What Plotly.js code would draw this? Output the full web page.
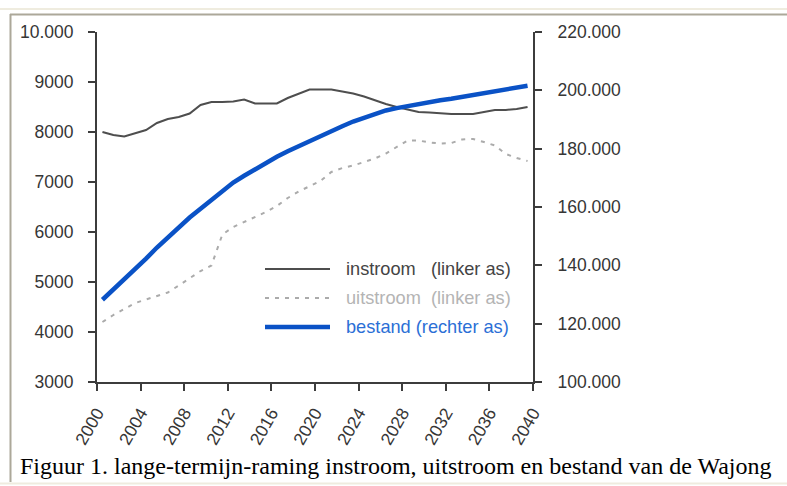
<!DOCTYPE html>
<html>
<head>
<meta charset="utf-8">
<script src="https://cdn.plot.ly/plotly-3.0.1.min.js"></script>
<style>
html,body{margin:0;padding:0;background:#fff;}
#chart{width:787px;height:486px;}
</style>
</head>
<body>
<div id="chart"></div>
<script>
// ---- data ----
var years = [2000,2001,2002,2003,2004,2005,2006,2007,2008,2009,
             2010,2011,2012,2013,2014,2015,2016,2017,2018,2019,
             2020,2021,2022,2023,2024,2025,2026,2027,2028,2029,
             2030,2031,2032,2033,2034,2035,2036,2037,2038,2039];
var instroom = [8000,7940,7910,7970,8040,8180,8260,8300,8370,8540,
                8600,8600,8610,8650,8570,8570,8570,8680,8760,8850,
                8850,8850,8810,8770,8710,8630,8560,8500,8450,8400,
                8390,8370,8360,8360,8360,8400,8440,8440,8460,8500];
var uitstroom = [4200,4340,4460,4580,4650,4720,4790,4930,5080,5220,
                 5330,5950,6100,6200,6300,6400,6520,6680,6810,6910,
                 7020,7200,7280,7330,7400,7470,7570,7700,7830,7830,
                 7790,7770,7780,7850,7860,7800,7730,7560,7480,7420];
var bestand = [128200,131600,135000,138500,142300,146100,149600,153100,156400,159400,
               162500,165500,168400,170700,173000,175200,177200,179100,180900,182500,
               184200,186100,187700,189300,190700,192000,193100,193900,194600,195400,
               196000,196600,197100,197700,198300,198900,199500,200200,200800,201600];
var xTicks = [2000,2004,2008,2012,2016,2020,2024,2028,2032,2036,2040];
var xTickLabels = ["2000","2004","2008","2012","2016","2020","2024","2028","2032","2036","2040"];
var leftTicks = [3000,4000,5000,6000,7000,8000,9000,10000];
var leftTickLabels = ["3000","4000","5000","6000","7000","8000","9000","10.000"];
var rightTicks = [100000,120000,140000,160000,180000,200000,220000];
var rightTickLabels = ["100.000","120.000","140.000","160.000","180.000","200.000","220.000"];
var seriesNames = ["instroom", "uitstroom", "bestand"];
var legendLabels = ["instroom&#160;&#160;&#160;(linker as)", "uitstroom&#160;&#160;(linker as)", "bestand (rechter as)"];
var caption = "Figuur 1. lange-termijn-raming instroom, uitstroom en bestand van de Wajong";

// values are annual figures, plotted mid-year on the category band
var xMid = years.map(function(y){ return y + 0.5; });

// ---- styles ----
var colInstroom = "#4e4e4e", colUitstroom = "#ababab", colBestand = "#0a52c6";
var dashUit = "4px,6px";

// ---- layout helpers (pixel -> paper) ----
var L = 97, R = 533, T = 32, B = 382, W = 787, H = 486;
function px(p){ return (p - L) / (R - L); }
function py(p){ return (B - p) / (B - T); }

var traces = [
  {x: xMid, y: instroom, name: seriesNames[0], type: "scatter", mode: "lines",
   line: {color: colInstroom, width: 2}, yaxis: "y", showlegend: false, hoverinfo: "skip"},
  {x: xMid, y: uitstroom, name: seriesNames[1], type: "scatter", mode: "lines",
   line: {color: colUitstroom, width: 2, dash: dashUit}, yaxis: "y", showlegend: false, hoverinfo: "skip"},
  {x: xMid, y: bestand, name: seriesNames[2], type: "scatter", mode: "lines",
   line: {color: colBestand, width: 4.5}, yaxis: "y2", showlegend: false, hoverinfo: "skip"}
];

var tickFont = {family: "Liberation Sans, Arial, sans-serif", size: 17.5, color: "#363636"};
var axisCol = "#3c3c3c";

var legendY = [269, 298, 327];
var legendCols = [colInstroom, colUitstroom, colBestand];
var legendTextCols = ["#444444", "#b4b4b4", "#2b6fd6"];
var legendDash = ["solid", dashUit, "solid"];
var legendW = [2, 2, 4.5];

var shapes = [
  // outer frame
  {type: "line", xref: "paper", yref: "paper", x0: px(0), x1: px(W), y0: py(9), y1: py(9),
   line: {color: "#efecdf", width: 2}, layer: "below"},
  {type: "line", xref: "paper", yref: "paper", x0: px(10), x1: px(W), y0: py(14.5), y1: py(14.5),
   line: {color: "#aca899", width: 2}, layer: "below"},
  {type: "line", xref: "paper", yref: "paper", x0: px(10.5), x1: px(10.5), y0: py(14), y1: py(482),
   line: {color: "#aca899", width: 2}, layer: "below"},
  {type: "line", xref: "paper", yref: "paper", x0: px(0), x1: px(W), y0: py(483.5), y1: py(483.5),
   line: {color: "#efecdf", width: 2}, layer: "below"}
];
var annotations = [];
for (var i = 0; i < 3; i++) {
  shapes.push({type: "line", xref: "paper", yref: "paper",
    x0: px(265), x1: px(330), y0: py(legendY[i]), y1: py(legendY[i]),
    line: {color: legendCols[i], width: legendW[i], dash: legendDash[i]}});
  annotations.push({xref: "paper", yref: "paper", x: px(344), y: py(legendY[i]),
    xanchor: "left", yanchor: "middle", showarrow: false, text: legendLabels[i],
    font: {family: "Liberation Sans, Arial, sans-serif", size: 18.2, color: legendTextCols[i]}});
}
annotations.push({xref: "paper", yref: "paper", x: px(18), y: py(466),
  xanchor: "left", yanchor: "middle", showarrow: false, text: caption,
  font: {family: "Liberation Serif, Times New Roman, serif", size: 24, color: "#000"}});

var layout = {
  width: W, height: H,
  margin: {l: L, r: W - R, t: T, b: H - B, pad: 0},
  paper_bgcolor: "#ffffff", plot_bgcolor: "#ffffff",
  showlegend: false,
  xaxis: {
    range: [2000, 2040], tickmode: "array", tickvals: xTicks, ticktext: xTickLabels,
    tickangle: -60, ticks: "outside", ticklen: 7, tickwidth: 2, tickcolor: axisCol,
    showline: true, linecolor: axisCol, linewidth: 2, showgrid: false, zeroline: false,
    tickfont: tickFont, ticklabelstandoff: 5, fixedrange: true
  },
  yaxis: {
    range: [3000, 10000], tickmode: "array", tickvals: leftTicks, ticktext: leftTickLabels,
    ticks: "outside", ticklen: 7, tickwidth: 2, tickcolor: axisCol,
    showline: true, linecolor: axisCol, linewidth: 2, showgrid: false, zeroline: false,
    tickfont: tickFont, ticklabelstandoff: 11, fixedrange: true
  },
  yaxis2: {
    range: [100000, 220000], overlaying: "y", side: "right",
    tickmode: "array", tickvals: rightTicks, ticktext: rightTickLabels,
    ticks: "outside", ticklen: 7, tickwidth: 2, tickcolor: axisCol,
    showline: true, linecolor: axisCol, linewidth: 2, showgrid: false, zeroline: false,
    tickfont: tickFont, ticklabelstandoff: 12, fixedrange: true
  },
  shapes: shapes,
  annotations: annotations
};

Plotly.newPlot("chart", traces, layout, {staticPlot: true, displayModeBar: false});
</script>
</body>
</html>
